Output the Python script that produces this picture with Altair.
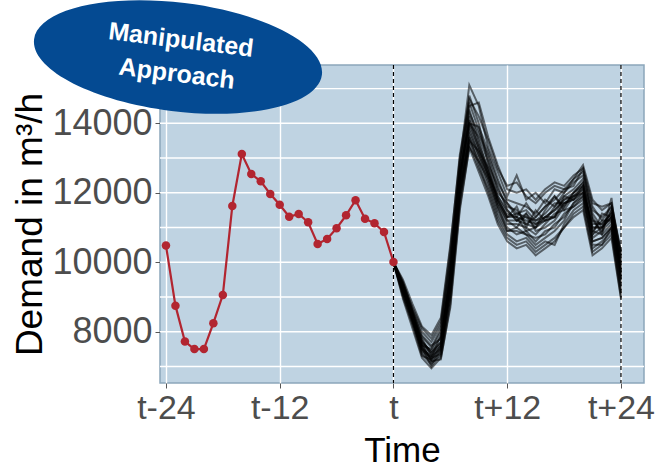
import altair as alt
import pandas as pd

# Observed demand for the 24 hours up to t (hour offsets -24 .. 0)
past_hours = list(range(-24, 1))
past_demand = [10480, 8750, 7715, 7500, 7500, 8245, 9060, 11620, 13115, 12540,
               12330, 11965, 11655, 11310, 11390, 11150, 10525, 10670, 10980,
               11350, 11785, 11255, 11120, 10870, 10010]

# Forecast ensemble for the next 24 hours (hour offsets 0 .. 24)
future_hours = list(range(0, 25))
ensemble = [
    [10000, 9300, 8500, 7700, 7400, 7700, 9600, 12400, 14200, 13400, 12700, 11900, 11400, 11300, 11200, 11100, 11300, 11500, 11800, 11900, 12100, 11000, 11000, 11300, 9900],
    [10000, 9100, 8300, 7400, 7100, 7300, 9000, 12000, 13600, 13000, 12300, 11500, 11000, 10800, 10900, 10600, 10900, 11000, 11400, 11600, 11800, 10600, 10700, 11000, 9400],
    [10000, 9450, 8650, 8000, 7700, 8200, 10200, 12900, 15100, 14500, 13300, 12600, 11900, 12500, 11800, 12000, 11700, 12100, 12000, 12300, 12500, 11500, 11300, 11600, 10200],
    [10000, 9000, 8200, 7300, 7200, 7600, 9400, 12200, 13900, 13200, 12500, 11700, 11200, 11000, 11400, 10900, 11000, 11200, 11600, 12000, 12300, 10900, 11200, 11200, 9700],
    [10000, 9250, 8400, 7600, 7500, 8000, 9900, 12600, 14600, 13800, 13000, 12100, 11600, 11500, 11100, 11300, 11600, 11800, 12100, 12200, 12700, 11200, 10900, 11500, 10000],
    [10000, 9350, 8550, 7800, 7300, 7500, 9200, 11800, 13400, 12700, 12100, 11300, 10800, 10600, 10700, 10400, 10600, 10500, 11100, 11500, 11700, 10400, 10600, 10900, 9100],
    [10000, 9200, 8450, 7550, 7000, 7400, 9700, 12500, 14000, 13600, 12900, 12000, 11700, 11400, 11500, 11200, 11400, 11700, 11700, 11800, 12000, 11100, 11100, 11400, 10100],
    [10000, 9400, 8600, 7900, 7600, 7800, 9500, 12300, 14400, 13500, 12600, 11800, 11300, 11600, 11000, 11500, 11200, 11300, 11900, 12100, 12400, 11300, 10800, 11100, 9600],
    [10000, 9050, 8250, 7450, 7250, 7900, 10000, 12700, 14800, 14000, 12800, 12200, 11500, 11200, 11300, 11000, 11500, 11900, 11500, 11900, 12200, 10800, 11400, 11300, 9800],
    [10000, 9300, 8350, 7650, 7150, 7200, 8800, 11600, 13300, 12900, 12200, 11400, 10900, 10900, 10800, 10700, 10800, 11100, 11300, 11700, 11900, 10500, 10500, 11000, 9200],
    [10000, 9150, 8500, 7750, 7400, 7700, 9800, 12800, 14300, 13700, 13100, 12300, 11800, 11700, 11600, 11400, 11800, 11600, 12000, 12400, 12600, 11600, 11200, 11600, 10300],
    [10000, 9250, 8400, 7350, 7050, 7500, 9300, 12100, 13700, 13100, 12400, 11600, 11100, 11100, 11000, 10800, 11100, 11400, 11500, 11600, 11900, 10700, 10900, 11200, 9500],
    [10000, 9400, 8700, 8100, 7800, 8300, 10400, 13100, 14700, 14200, 13500, 12700, 12200, 12300, 11900, 11700, 12000, 12200, 12100, 12400, 12800, 11800, 11500, 11700, 10200],
    [10000, 9100, 8300, 7500, 7300, 7600, 9100, 11900, 13600, 12800, 12000, 11200, 10700, 10500, 10600, 10300, 10500, 10700, 11000, 11400, 11600, 10300, 10500, 10800, 9000],
    [10000, 9300, 8550, 7700, 7450, 7850, 9600, 12500, 14100, 13300, 12600, 11800, 11300, 11400, 11300, 11200, 11300, 11500, 11800, 12000, 12200, 11000, 11000, 11300, 9800],
    [10000, 9200, 8450, 7600, 7200, 7550, 9450, 12200, 13800, 13100, 12500, 11700, 11200, 11200, 11100, 11000, 11200, 11300, 11700, 11800, 12100, 10900, 10800, 11850, 9600],
    [10000, 9500, 8800, 8150, 7900, 8400, 10500, 13000, 14500, 14600, 13600, 12800, 12100, 12000, 12100, 11800, 12100, 12300, 12200, 12500, 12700, 11700, 11600, 11700, 10300],
    [10000, 8950, 8100, 7250, 6950, 7250, 8700, 11500, 13300, 12600, 11900, 11100, 10600, 10400, 10500, 10200, 10400, 10600, 11000, 11300, 11500, 10200, 10400, 10700, 8950],
    [10000, 9350, 8600, 7850, 7550, 8100, 10100, 12600, 14000, 13900, 13200, 12400, 11700, 11300, 11700, 11300, 11600, 11900, 11600, 12000, 12300, 11400, 11000, 11500, 10000],
    [10000, 9150, 8350, 7500, 7150, 7450, 9250, 12000, 13500, 12900, 12400, 11600, 10900, 11000, 10800, 10500, 10700, 10900, 11200, 11700, 12000, 10600, 10700, 11000, 9300],
    [10000, 9250, 8500, 7650, 7350, 7650, 9550, 12300, 14000, 13300, 12500, 11900, 11500, 11200, 11400, 11100, 11200, 11600, 11900, 11800, 12200, 11200, 11100, 11400, 9700],
    [10000, 9300, 8400, 7550, 7250, 7350, 9000, 11800, 13500, 13200, 12700, 11800, 11300, 11300, 10900, 11000, 11300, 11300, 11700, 11900, 12000, 10800, 11000, 11300, 9500],
]

x_ticks = [-24, -12, 0, 12, 24]
x_tick_labels = ["t-24", "t-12", "t", "t+12", "t+24"]
y_ticks = [8000, 10000, 12000, 14000]
y_grid = [7000, 8000, 9000, 10000, 11000, 12000, 13000, 14000, 15000]
boundaries = [0, 24]
badge_text = ["Manipulated", "Approach"]

past_df = pd.DataFrame({"hour": past_hours, "demand": past_demand})
ens_df = pd.DataFrame(
    [{"member": i, "hour": h, "demand": v}
     for i, series in enumerate(ensemble)
     for h, v in zip(future_hours, series)]
)

x_scale = alt.Scale(domain=[-24.63, 26.43], nice=False, zero=False)
y_scale = alt.Scale(domain=[6523, 15679], nice=False, zero=False)

label_map = "{" + ", ".join(f"'{v}': '{l}'" for v, l in zip(x_ticks, x_tick_labels)) + "}"

x_enc = alt.X(
    "hour:Q", scale=x_scale,
    axis=alt.Axis(values=x_ticks, labelExpr=f"{label_map}[datum.value]",
                  title="Time", grid=True, gridColor="white", gridWidth=1.4,
                  labelFontSize=34, titleFontSize=35, labelColor="#4d4d4d",
                  titleColor="black", labelFont="Liberation Sans", titleFont="Liberation Sans",
                  titleFontWeight="normal", tickColor="#555", tickSize=5,
                  labelPadding=3, titlePadding=8, domain=False, labelFlush=False),
)
y_enc = alt.Y(
    "demand:Q", scale=y_scale,
    axis=alt.Axis(values=y_ticks, format="d", title="Demand in m³/h", grid=False,
                  labelFontSize=36, titleFontSize=37, labelColor="#4d4d4d",
                  titleColor="black", labelFont="Liberation Sans", titleFont="Liberation Sans",
                  titleFontWeight="normal", tickColor="#555", tickSize=5,
                  labelPadding=3, titlePadding=2, domain=False),
)

grid = alt.Chart(pd.DataFrame({"g": y_grid})).mark_rule(
    color="white", strokeWidth=1.4
).encode(y=alt.Y("g:Q", scale=y_scale))

bounds = alt.Chart(pd.DataFrame({"b": boundaries})).mark_rule(
    color="black", strokeDash=[4, 3], strokeWidth=1.2
).encode(x=alt.X("b:Q", scale=x_scale))

ens_lines = alt.Chart(ens_df).mark_line(
    color="black", strokeWidth=2, opacity=0.55
).encode(x=x_enc, y=y_enc, detail="member:N")

past_line = alt.Chart(past_df).mark_line(
    color="#b22530", strokeWidth=2.2
).encode(x=alt.X("hour:Q", scale=x_scale), y=alt.Y("demand:Q", scale=y_scale))

past_pts = alt.Chart(past_df).mark_point(
    filled=True, color="#b22530", size=72, opacity=1
).encode(x=alt.X("hour:Q", scale=x_scale), y=alt.Y("demand:Q", scale=y_scale))

badge_df = pd.DataFrame({"k": [0]})
badge = alt.Chart(badge_df).mark_point(
    shape="M -1 0 A 1 0.375 0 1 1 1 0 A 1 0.375 0 1 1 -1 0 Z",
    filled=True, color="#044a92", opacity=1, size=84100, angle=7,
).encode(x=alt.value(18), y=alt.value(-8))

badge_label = alt.Chart(badge_df).mark_text(
    text=badge_text, color="white", font="Liberation Sans", fontWeight="bold",
    fontSize=25, lineHeight=34, angle=7, align="center", baseline="middle",
).encode(x=alt.value(21), y=alt.value(-25))

chart = alt.layer(
    grid, ens_lines, bounds, past_line, past_pts, badge, badge_label
).properties(
    width=484, height=318,
    autosize=alt.AutoSizeParams(type="none"),
    padding={"left": 160, "top": 65, "right": 15, "bottom": 85},
    background="white",
).configure_view(
    fill="#bfd3e2", stroke="#8ca6bb", strokeWidth=1.5,
)

chart.save("out.html", embed_options={"renderer": "svg", "actions": False})
